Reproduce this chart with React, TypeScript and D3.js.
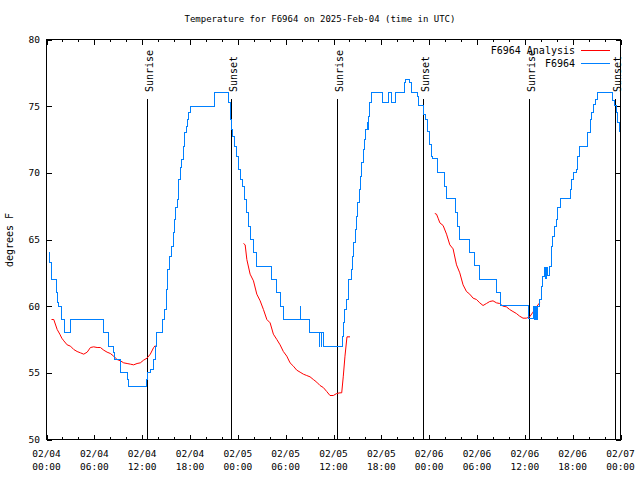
import React from "react";
import * as d3 from "d3";

// Hours since 2025-02-04 00:00 UTC
const obsHours = [
  0.29, 0.38, 0.59, 1.09, 1.25, 1.42, 1.54, 1.84, 2.25, 2.88, 3.04, 6.92, 7.1, 7.68, 7.8, 8.26, 8.39, 8.51, 9.14, 9.27,
  10.02, 10.14, 10.27, 12.52, 12.56, 12.68, 13.02, 13.36, 13.61, 13.86, 14.36, 14.49, 14.61, 14.78, 15.03, 15.19, 15.44,
  15.69, 15.87, 16.03, 16.19, 16.4, 16.62, 16.78, 16.94, 17.16, 17.37, 17.53, 17.69, 17.87, 18.03, 20.87, 21.04, 22.63,
  22.79, 23.04, 23.2, 23.29, 23.54, 23.79, 24.04, 24.29, 24.54, 24.79, 25.04, 25.29, 25.54, 25.92, 26.3, 28.05, 28.17,
  28.68, 28.8, 29.3, 29.68, 31.81, 31.84, 31.89, 32.9, 32.93, 34.15, 34.22, 34.27, 34.5, 34.55, 34.72, 37.03, 37.1,
  37.28, 37.44, 37.6, 37.82, 38.19, 38.23, 38.4, 38.57, 38.73, 38.91, 39.07, 39.23, 39.41, 39.57, 39.73, 39.91, 40.07,
  40.23, 40.32, 40.41, 40.57, 40.73, 42.01, 42.14, 42.74, 42.86, 43.16, 43.29, 43.7, 43.83, 44.74, 44.87, 45.04, 45.45,
  45.58, 45.79, 46.42, 46.54, 46.71, 47.25, 47.33, 47.58, 47.83, 48.08, 48.33, 48.46, 48.92, 49.0, 49.84, 49.96, 50.21,
  51.21, 51.34, 51.59, 51.84, 53.06, 53.09, 53.59, 53.72, 54.26, 54.35, 56.31, 56.47, 56.85, 56.97, 60.39, 60.48, 61.02,
  61.11, 61.16, 61.36, 61.41, 61.65, 61.86, 62.07, 62.27, 62.48, 62.6, 62.73, 62.9, 63.11, 63.32, 63.52, 63.74, 63.95,
  64.15, 64.49, 65.62, 65.7, 65.9, 66.12, 66.45, 66.65, 66.87, 67.78, 67.91, 68.21, 68.41, 68.62, 68.83, 69.08, 70.91,
  71.04, 71.25, 71.46, 71.66, 71.88,
];
const obsTemps = [
  64, 63.3, 62, 62, 61, 60.3, 60, 59, 58, 58, 59, 59, 58, 58, 57, 57, 56.5, 56, 56, 55,
  55, 54.5, 54, 54, 54.5, 55, 55.25, 56, 57, 58, 58, 58.5, 59, 59.75, 61.25, 62.75, 63.75,
  64.5, 65.5, 66.5, 67.4, 68, 69.5, 70.4, 71, 72, 73, 73.5, 74, 74.5, 75, 75, 76, 76,
  75.25, 74, 73.25, 72.75, 72, 71.25, 70.25, 69.5, 69, 68, 67, 66, 65, 64, 63, 63, 62,
  62, 61, 60, 59, 59, 60, 59, 59, 58, 58, 57, 58, 57, 58, 57, 57, 57.75,
  58.75, 59.75, 60.5, 62, 62, 62.75, 63.75, 64.75, 65.75, 66.75, 67.75, 68.75, 69.75, 70.75, 71.75, 72.5, 73.25,
  73.75, 73.25, 74.25, 75.25, 76, 76, 75.25, 75.25, 76, 76, 75.25, 75.25, 76, 76, 76.75, 77, 77,
  76.75, 76, 76, 75.75, 75.05, 75.05, 74.4, 74, 73.1, 72.1, 71.25, 71.05, 71.05, 70.05, 70.05, 69, 68.05,
  68.05, 67, 66, 65, 65, 64, 64, 63.05, 63.05, 62, 62, 61, 61, 60.05, 60.05, 59.05, 59.05,
  60, 59, 60, 59, 60, 60.5, 61.5, 62.25, 62.9, 62.1, 62.9, 62.3, 63, 64.5, 65.25, 66, 66.5,
  67.4, 68.05, 68.05, 68.75, 69.5, 70, 70.25, 71.25, 72, 72, 73, 74, 74.5, 75.1, 75.5, 76, 76,
  75.4, 75.05, 74.5, 73.75, 73.05,
];

// Analysis series; null breaks the line between runs
const anaHours = [
  0.63, 0.91, 1.34, 1.67, 1.92, 2.17, 2.59, 3.01, 3.42, 3.84, 4.26, 4.67, 5.1, 5.51, 5.92, 6.35, 6.76, 7.18, 7.6, 8.01,
  8.43, 8.85, 9.27, 9.68, 10.11, 10.52, 10.93, 11.36, 11.77, 12.18, 12.61, 13.02, 13.44, 13.65,
  20,
  24.71, 24.92, 25.13, 25.54, 25.96, 26.38, 26.8, 27.21, 27.64, 28.05, 28.46, 28.89, 29.3, 29.71, 30.14, 30.55, 30.97,
  31.39, 31.81, 32.22, 32.64, 33.06, 33.47, 33.9, 34.31, 34.72, 35.15, 35.56, 35.98, 36.4, 36.81, 37.03, 37.23, 37.44,
  37.69, 38.07,
  44,
  48.71, 48.92, 49.12, 49.34, 49.75, 50.18, 50.59, 51.0, 51.43, 51.84, 52.25, 52.68, 53.09, 53.51, 53.93, 54.35, 54.76,
  55.18, 55.6, 56.01, 56.44, 56.85, 57.26, 57.69, 58.1, 58.51, 58.94, 59.35, 59.77, 60.19, 60.61, 61.02, 61.45, 61.86,
];
const anaTemps: (number | null)[] = [
  59, 59, 58.25, 57.9, 57.6, 57.4, 57.1, 57, 56.75, 56.6, 56.5, 56.4, 56.55, 56.9, 56.95, 56.9, 56.9, 56.7, 56.55, 56.45,
  56.25, 56, 55.9, 55.75, 55.7, 55.65, 55.6, 55.7, 55.75, 55.95, 56.1, 56.4, 56.9, 57.05,
  null,
  64.7, 64.6, 63.5, 62.4, 61.9, 60.9, 60.4, 59.75, 59, 58.75, 57.9, 57.5, 57.1, 56.6, 56.25, 55.75, 55.5,
  55.2, 55.05, 54.9, 54.8, 54.7, 54.5, 54.3, 54.05, 53.9, 53.6, 53.3, 53.3, 53.45, 53.5, 53.5, 54.75, 56.25,
  57.7, 57.7,
  null,
  66.95, 66.9, 66.6, 66.25, 66.05, 65.4, 64.6, 64.3, 63.1, 62.5, 61.6, 61.1, 60.9, 60.6, 60.5, 60.25, 60.05,
  60.2, 60.35, 60.4, 60.25, 60.2, 60, 59.95, 59.75, 59.6, 59.45, 59.25, 59.1, 59.1, 59.2, 59.55, 59.95, 60.25,
];

const sunriseHours = [12.56, 36.5, 60.52];
const sunsetHours = [23.2, 47.25, 71.3];
const yTicks = [50, 55, 60, 65, 70, 75, 80];
const titleText = "Temperature for F6964 on 2025-Feb-04 (time in UTC)";
const yLabel = "degrees F";
const legendNames = ["F6964 Analysis", "F6964"];

const BASE = Date.UTC(2025, 1, 4, 0, 0);
const toDate = (h: number) => new Date(BASE + h * 3600 * 1000);

const MONO = "'DejaVu Sans Mono', monospace";
const RED = "#ff0000";
const BLUE = "#0080ff";

export default function App() {
  const L = 46.5, R = 620.5, T = 39.5, B = 439.5;
  const x = d3.scaleUtc().domain([toDate(0), toDate(72)]).range([L, R]);
  const y = d3.scaleLinear().domain([50, 80]).range([B, T]);

  const majorTicks = d3.utcHour.every(6)!.range(toDate(0), toDate(72.01));
  const minorTicks = d3.utcHour.every(2)!.range(toDate(0), toDate(72.01)).filter((d) => d.getUTCHours() % 6 !== 0);
  const fmtDate = d3.utcFormat("%m/%d");
  const fmtTime = d3.utcFormat("%H:%M");

  const obs = obsHours.map((h, i) => ({ d: toDate(h), v: obsTemps[i] as number | null }));
  const ana = anaHours.map((h, i) => ({ d: toDate(h), v: anaTemps[i] }));
  const anaLine = d3
    .line<{ d: Date; v: number | null }>()
    .defined((p) => p.v !== null)
    .x((p) => x(p.d))
    .y((p) => y(p.v as number));
  const obsLine = d3
    .line<{ d: Date; v: number | null }>()
    .curve(d3.curveStepAfter)
    .x((p) => x(p.d))
    .y((p) => y(p.v as number));

  const sunEvents = [
    ...sunriseHours.map((h) => ({ h, label: "Sunrise" })),
    ...sunsetHours.map((h) => ({ h, label: "Sunset" })),
  ];

  return (
    <svg
      width={640}
      height={480}
      style={{ position: "absolute", left: 0, top: 0, background: "#fff" }}
      fontFamily={MONO}
    >
      <rect x={0} y={0} width={640} height={480} fill="#fff" />
      <text x={320} y={22} fontSize={9} textAnchor="middle" fill="#000">
        {titleText}
      </text>

      {/* y ticks */}
      {yTicks.map((t) => (
        <g key={"y" + t}>
          <line x1={L} x2={L + 5} y1={Math.round(y(t)) + 0.5} y2={Math.round(y(t)) + 0.5} stroke="#000" shapeRendering="crispEdges" />
          <line x1={R} x2={R - 5} y1={Math.round(y(t)) + 0.5} y2={Math.round(y(t)) + 0.5} stroke="#000" shapeRendering="crispEdges" />
          <text x={40} y={y(t) + 3.5} fontSize={9.5} textAnchor="end" fill="#000">
            {t}
          </text>
        </g>
      ))}

      {/* x ticks */}
      {majorTicks.map((d, i) => (
        <g key={"x" + i}>
          <line x1={Math.round(x(d)) + 0.5} x2={Math.round(x(d)) + 0.5} y1={B} y2={B - 5} stroke="#000" shapeRendering="crispEdges" />
          <line x1={Math.round(x(d)) + 0.5} x2={Math.round(x(d)) + 0.5} y1={T} y2={T + 5} stroke="#000" shapeRendering="crispEdges" />
          <text x={x(d)} y={457} fontSize={9.5} textAnchor="middle" fill="#000">
            {fmtDate(d)}
          </text>
          <text x={x(d)} y={470} fontSize={9.5} textAnchor="middle" fill="#000">
            {fmtTime(d)}
          </text>
        </g>
      ))}
      {minorTicks.map((d, i) => (
        <g key={"m" + i}>
          <line x1={Math.round(x(d)) + 0.5} x2={Math.round(x(d)) + 0.5} y1={B} y2={B - 2.5} stroke="#000" shapeRendering="crispEdges" />
          <line x1={Math.round(x(d)) + 0.5} x2={Math.round(x(d)) + 0.5} y1={T} y2={T + 2.5} stroke="#000" shapeRendering="crispEdges" />
        </g>
      ))}

      <text
        transform={`translate(13,240) rotate(-90)`}
        fontSize={10}
        textAnchor="middle"
        fill="#000"
      >
        {yLabel}
      </text>

      {/* sunrise / sunset markers */}
      {sunEvents.map((e, i) => {
        const px = Math.round(x(toDate(e.h))) + 0.5;
        return (
          <g key={"s" + i}>
            <line x1={px} x2={px} y1={99} y2={B} stroke="#000" shapeRendering="crispEdges" />
            <text transform={`translate(${px + 5},92) rotate(-90)`} fontSize={10} fill="#000">
              {e.label}
            </text>
          </g>
        );
      })}

      {/* data */}
      <path d={anaLine(ana) || ""} fill="none" stroke={RED} strokeWidth={1} />
      <path d={obsLine(obs) || ""} fill="none" stroke={BLUE} strokeWidth={1} shapeRendering="crispEdges" />

      {/* legend */}
      {legendNames.map((n, i) => (
        <g key={"l" + i}>
          <text x={575} y={53.5 + i * 13} fontSize={10} textAnchor="end" fill="#000">
            {n}
          </text>
          <line x1={581} x2={610} y1={50.5 + i * 13} y2={50.5 + i * 13} stroke={i === 0 ? RED : BLUE} strokeWidth={1} shapeRendering="crispEdges" />
        </g>
      ))}

      <rect x={L} y={T} width={R - L} height={B - T} fill="none" stroke="#000" shapeRendering="crispEdges" />
    </svg>
  );
}
